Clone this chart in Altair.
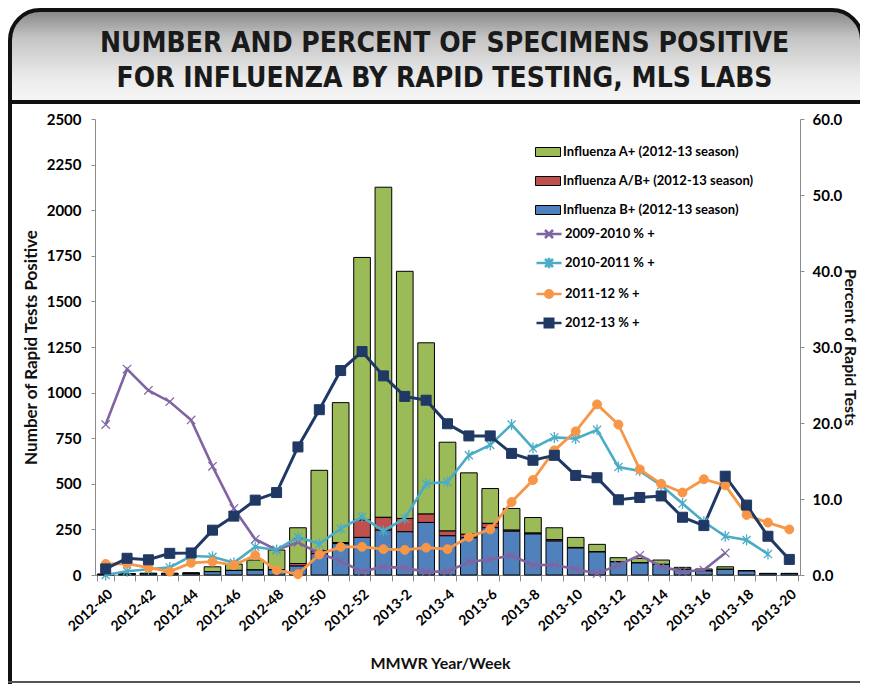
import json
import altair as alt
import pandas as pd

# ---------------- data ----------------
weeks = ["2012-40", "2012-41", "2012-42", "2012-43", "2012-44", "2012-45", "2012-46",
         "2012-47", "2012-48", "2012-49", "2012-50", "2012-51", "2012-52",
         "2013-1", "2013-2", "2013-3", "2013-4", "2013-5", "2013-6", "2013-7",
         "2013-8", "2013-9", "2013-10", "2013-11", "2013-12", "2013-13", "2013-14",
         "2013-15", "2013-16", "2013-17", "2013-18", "2013-19", "2013-20"]
labeled_weeks = ["2012-40", "2012-42", "2012-44", "2012-46", "2012-48", "2012-50",
                 "2012-52", "2013-2", "2013-4", "2013-6", "2013-8", "2013-10",
                 "2013-12", "2013-14", "2013-16", "2013-18", "2013-20"]

flu_a = [2, 3, 4, 4, 5, 27, 35, 55, 107, 196, 442, 767, 1440, 1810, 1355, 939, 487,
         337, 191, 119, 85, 65, 55, 40, 22, 25, 24, 11, 10, 14, 2, 1, 1]
flu_ab = [0, 0, 0, 0, 0, 0, 0, 0, 2, 14, 15, 6, 95, 70, 73, 46, 26,
          19, 24, 6, 5, 8, 3, 2, 1, 0, 0, 0, 1, 0, 0, 0, 0]
flu_b = [3, 5, 6, 6, 8, 18, 25, 27, 28, 49, 117, 172, 206, 246, 237, 288, 215,
         204, 259, 240, 225, 186, 148, 126, 72, 66, 58, 31, 22, 31, 22, 8, 8]

pct_0910 = [19.8, 27.1, 24.3, 22.8, 20.4, 14.3, 8.75, 4.7, 3.3, 4.3, 2.85, 1.8, 0.45,
            1.1, 0.9, 0.45, 0.45, 1.75, 2.05, 2.6, 1.3, 1.35, 0.75, 0.2, 1.3, 2.6,
            1.1, 0.45, 0.65, 2.9]
pct_1011 = [0.0, 0.5, 0.75, 1.0, 2.5, 2.4, 1.6, 3.7, 3.3, 5.0, 4.1, 6.1, 7.65, 5.8,
            7.45, 12.0, 12.25, 15.75, 17.1, 19.8, 16.7, 18.1, 17.95, 19.1, 14.2, 13.7,
            11.8, 9.4, 7.0, 5.1, 4.6, 2.75]
pct_1112 = [1.45, 1.5, 0.96, 0.45, 1.6, 1.75, 1.3, 2.6, 0.65, 0.1, 2.7, 3.7, 3.7, 3.4,
            3.3, 3.6, 3.4, 5.0, 6.0, 9.6, 12.5, 16.4, 18.9, 22.45, 19.8, 13.9, 12.0,
            10.85, 12.6, 11.8, 7.9, 6.9, 6.0]
pct_1213 = [0.8, 2.2, 2.0, 2.85, 2.9, 5.9, 7.75, 9.85, 10.85, 16.85, 21.75, 26.9, 29.4,
            26.2, 23.5, 23.0, 19.9, 18.3, 18.3, 16.0, 15.1, 15.75, 13.1, 12.8, 9.9, 10.2,
            10.4, 7.6, 6.5, 13.0, 9.2, 5.1, 2.05]

bar_names = ["Influenza A+ (2012-13 season)", "Influenza A/B+ (2012-13 season)",
             "Influenza B+ (2012-13 season)"]
bar_colors = ["#9BBB59", "#C0504D", "#4F81BD"]
bar_stack = [2, 1, 0]

line_names = ["2009-2010 % +", "2010-2011 % +", "2011-12 % +", "2012-13 % +"]
line_colors = ["#8064A2", "#4BACC6", "#F79646", "#1F3864"]

title_lines = ["NUMBER AND PERCENT OF SPECIMENS POSITIVE",
               "FOR INFLUENZA BY RAPID TESTING, MLS LABS"]
left_ticks = [0, 250, 500, 750, 1000, 1250, 1500, 1750, 2000, 2250, 2500]
right_ticks = [0, 10, 20, 30, 40, 50, 60]

# ---------------- tables ----------------
bar_rows = []
for name, vals, order in zip(bar_names, [flu_a, flu_ab, flu_b], bar_stack):
    for w, v in zip(weeks, vals):
        bar_rows.append({"week": w, "type": name, "count": v, "stack": order})
bars_df = pd.DataFrame(bar_rows)

line_rows = []
for name, vals in zip(line_names, [pct_0910, pct_1011, pct_1112, pct_1213]):
    for w, v in zip(weeks, vals):
        line_rows.append({"week": w, "series": name, "pct": v})
lines_df = pd.DataFrame(line_rows)

# ---------------- styling ----------------
FONT = "Lato, 'Open Sans', sans-serif"
TITLE_FONT = "'Liberation Sans Narrow', 'Arial Narrow', 'DejaVu Sans Condensed', 'Liberation Sans', sans-serif"
AXIS_GRAY = "#8C8C8C"
W, H = 705, 456

label_expr = "indexof(" + json.dumps(labeled_weeks) + ", datum.value) >= 0 ? datum.value : ''"

x_enc = alt.X(
    "week:N",
    sort=weeks,
    scale=alt.Scale(type="band", domain=weeks, paddingInner=0.22, paddingOuter=0.11),
    axis=alt.Axis(
        title="MMWR Year/Week", labelExpr=label_expr, labelAngle=-42,
        labelAlign="right", labelBaseline="top", labelOverlap=False,
        tickBand="extent", tickSize=6, labelPadding=6,
        domainColor=AXIS_GRAY, tickColor=AXIS_GRAY,
        labelFont=FONT, labelFontSize=14, labelFontWeight="bold", labelColor="black",
        titleFont=FONT, titleFontSize=16, titleFontWeight="bold", titleColor="#111111",
        titlePadding=22, titleX=345,
    ),
)

y_left = alt.Y(
    "count:Q", stack="zero",
    scale=alt.Scale(domain=[0, 2500], nice=False),
    axis=alt.Axis(
        orient="left", title="Number of Rapid Tests Positive", values=left_ticks,
        format="d", grid=False, domainColor=AXIS_GRAY, tickColor=AXIS_GRAY, tickSize=4,
        labelPadding=10, labelFont=FONT, labelFontSize=15, labelFontWeight="bold",
        labelColor="black", titleFont=FONT, titleFontSize=17, titleFontWeight="bold",
        titleColor="#111111", titlePadding=6,
    ),
)

y_right = alt.Y(
    "pct:Q",
    scale=alt.Scale(domain=[0, 60], nice=False),
    axis=alt.Axis(
        orient="right", title="Percent of Rapid Tests", values=right_ticks, format=".1f",
        grid=False, domainColor=AXIS_GRAY, tickColor=AXIS_GRAY, tickSize=4,
        labelPadding=8, labelFont=FONT, labelFontSize=15, labelFontWeight="bold",
        labelColor="black", titleFont=FONT, titleFontSize=16, titleFontWeight="bold",
        titleColor="#111111", titlePadding=0,
    ),
)

bar_legend = alt.Legend(
    title=None, orient="none", legendX=440, legendY=20, padding=0,
    symbolType="M-1,-0.36H1V0.36H-1Z", symbolSize=625,
    symbolStrokeColor="black", symbolStrokeWidth=1,
    labelFont=FONT, labelFontSize=13, labelFontWeight="bold", labelColor="black",
    labelOffset=2, rowPadding=9, labelLimit=400,
)

line_legend = alt.Legend(
    title=None, orient="none", legendX=440, legendY=101, padding=0,
    symbolSize=625, symbolStrokeWidth=2.5,
    labelFont=FONT, labelFontSize=13, labelFontWeight="bold", labelColor="black",
    labelOffset=2, rowPadding=6, labelLimit=400,
)

legend_paths = [
    "M-1,0H1M-0.32,-0.32L0.32,0.32M-0.32,0.32L0.32,-0.32",
    "M-1,0H1M-0.32,-0.32L0.32,0.32M-0.32,0.32L0.32,-0.32M0,-0.42V0.42",
    "M-1,0H1M-0.3,0A0.3,0.3,0,1,0,0.3,0A0.3,0.3,0,1,0,-0.3,0Z",
    "M-1,0H1M-0.34,-0.34H0.34V0.34H-0.34Z",
]
marker_shapes = [
    "M-1,-1L1,1M-1,1L1,-1",
    "M-0.85,-0.85L0.85,0.85M-0.85,0.85L0.85,-0.85M0,-1.15V1.15",
    "circle",
    "square",
]
marker_sizes = [70, 90, 80, 100]
marker_strokes = [1.2, 1.3, 1, 1]
line_widths = [2.6, 2.6, 2.8, 3.0]

color_scale = alt.Scale(domain=line_names, range=line_colors)

# ---------------- decoration (frame + header) ----------------
one = pd.DataFrame({"k": [0]})
header_bg = alt.Chart(one).mark_rect(
    fill=alt.Gradient(
        gradient="linear", x1=0, y1=0, x2=0, y2=1,
        stops=[alt.GradientStop(color="#858585", offset=0),
               alt.GradientStop(color="#c4c4c4", offset=0.3),
               alt.GradientStop(color="#ececec", offset=0.75),
               alt.GradientStop(color="#f6f6f6", offset=1)]),
    stroke="#111111", strokeWidth=4, cornerRadiusTopLeft=30, cornerRadiusTopRight=30,
).encode(x=alt.value(-85), x2=alt.value(767), y=alt.value(-109), y2=alt.value(-17))

frame_left = alt.Chart(one).mark_rect(fill="#111111").encode(
    x=alt.value(-87), x2=alt.value(-83), y=alt.value(-17), y2=alt.value(565))
frame_bottom = alt.Chart(one).mark_rect(fill="#555555").encode(
    x=alt.value(-87), x2=alt.value(770), y=alt.value(562), y2=alt.value(564))

title1 = alt.Chart(pd.DataFrame({"t": [title_lines[0]]})).mark_text(
    font=TITLE_FONT, fontSize=28, fontWeight="bold", color="#1a1a1a",
    align="center", baseline="alphabetic",
).encode(text="t:N", x=alt.value(W / 2 - 3), y=alt.value(-67))
title2 = alt.Chart(pd.DataFrame({"t": [title_lines[1]]})).mark_text(
    font=TITLE_FONT, fontSize=28, fontWeight="bold", color="#1a1a1a",
    align="center", baseline="alphabetic",
).encode(text="t:N", x=alt.value(W / 2 - 3), y=alt.value(-32))

# ---------------- data layers ----------------
bars = alt.Chart(bars_df).mark_bar(stroke="black", strokeWidth=1).encode(
    x=x_enc,
    y=y_left,
    fill=alt.Fill("type:N", scale=alt.Scale(domain=bar_names, range=bar_colors),
                  legend=bar_legend),
    order=alt.Order("stack:Q", sort="ascending"),
)

line_layers = []
marker_layers = []
for name, col, shp, sz, sw, lw in zip(line_names, line_colors, marker_shapes,
                                      marker_sizes, marker_strokes, line_widths):
    line_layers.append(
        alt.Chart(lines_df).transform_filter(alt.datum.series == name).mark_line(
            color=col, strokeWidth=lw,
        ).encode(x=x_enc, y=y_right)
    )
    marker_layers.append(
        alt.Chart(lines_df).transform_filter(alt.datum.series == name).mark_point(
            filled=True, fill=col, stroke=col, shape=shp, size=sz,
            strokeWidth=sw, opacity=1,
        ).encode(x=x_enc, y=y_right)
    )

legend_only = alt.Chart(lines_df).transform_filter("false").mark_point(
    filled=True, opacity=1, strokeWidth=2.5,
).encode(
    x=x_enc,
    y=y_right,
    color=alt.Color("series:N", scale=color_scale, legend=line_legend),
    stroke=alt.Stroke("series:N", scale=color_scale, legend=line_legend),
    shape=alt.Shape("series:N", scale=alt.Scale(domain=line_names, range=legend_paths),
                    legend=line_legend),
)

pct_group = alt.layer(*line_layers, *marker_layers, legend_only)

chart = alt.layer(
    header_bg, frame_left, frame_bottom, title1, title2, bars, pct_group
).resolve_scale(
    y="independent"
).properties(
    width=W, height=H,
    autosize=alt.AutoSizeParams(type="none"),
    padding={"left": 87, "top": 111, "right": 60, "bottom": 109},
    background="white",
).configure_view(strokeWidth=0)

chart.save("out.html", embed_options={"renderer": "svg", "actions": False})
